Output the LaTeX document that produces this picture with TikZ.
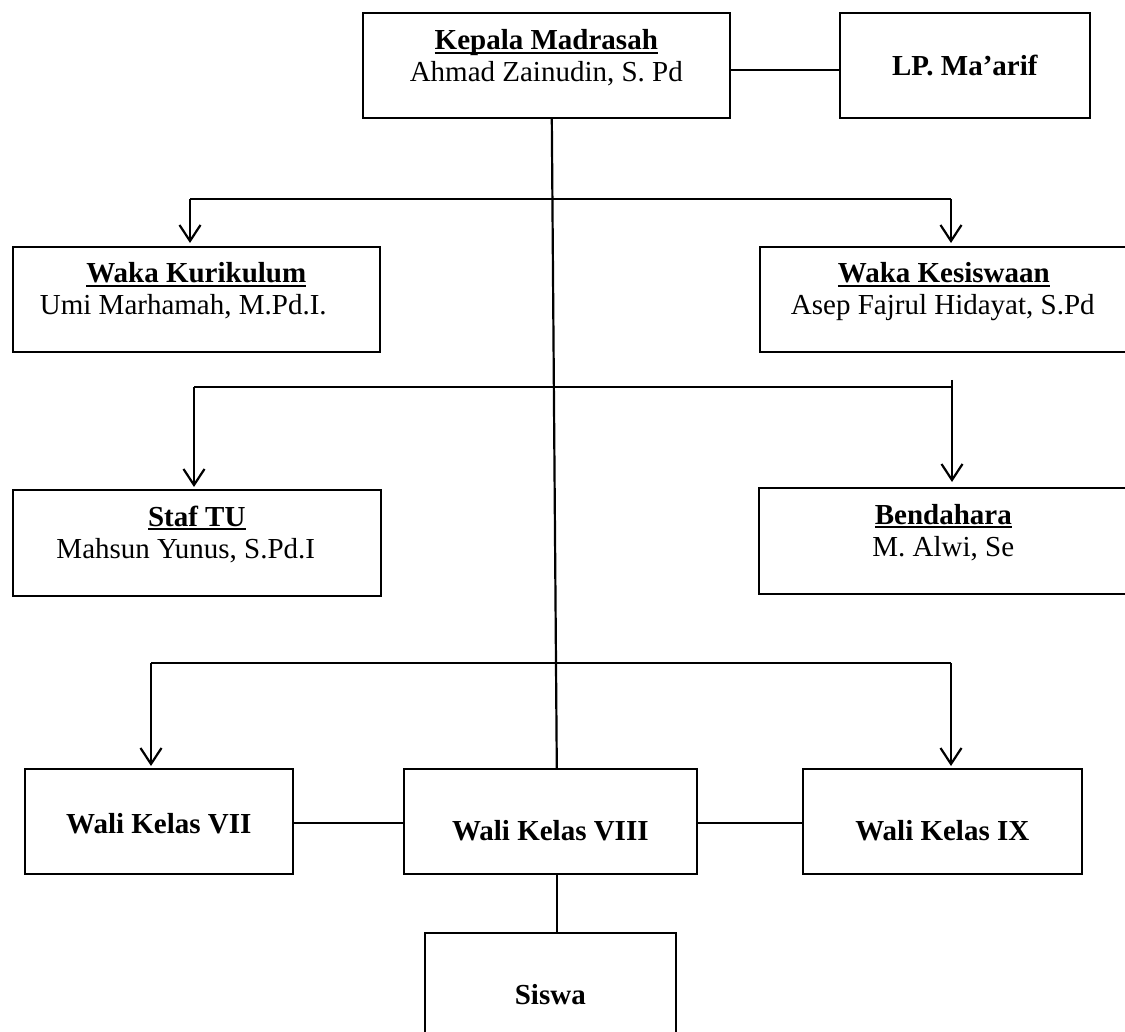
\documentclass[tikz,border=0pt]{standalone}
\usepackage{fontspec}
\setmainfont{Liberation Serif}
\newsavebox{\myulbox}
\newcommand{\myul}[1]{\sbox{\myulbox}{#1}\rlap{\usebox{\myulbox}}\rule[-4pt]{\wd\myulbox}{2.2pt}}
\usetikzlibrary{arrows.meta,calc}
\begin{document}
\begin{tikzpicture}[x=1pt,y=-1pt,
  box/.style={draw, line width=1.6pt, inner sep=0pt, anchor=north west},
  ln/.style={line width=2.2pt},
  arr/.style={line width=2.2pt, -{Straight Barb[length=16pt,width=21pt,line width=2.2pt]}},
  ttl/.style={font=\fontsize{29}{32}\selectfont\bfseries, anchor=base, inner sep=0pt},
  nm/.style={font=\fontsize{29}{32}\selectfont, anchor=base, inner sep=0pt}]
\clip (0,0) rectangle (1125,1032);
% boxes
\node[box, minimum width=367pt, minimum height=105pt] (kepala) at (362,12) {};
\node[box, minimum width=250pt, minimum height=105pt] (lp) at (839,12) {};
\node[box, minimum width=367pt, minimum height=105pt] (wk) at (12,246) {};
\node[box, minimum width=368pt, minimum height=105pt] (wks) at (759,246) {};
\node[box, minimum width=368pt, minimum height=106pt] (staf) at (12,489) {};
\node[box, minimum width=369pt, minimum height=106pt] (bend) at (758,487) {};
\node[box, minimum width=268pt, minimum height=105pt] (vii) at (24,768) {};
\node[box, minimum width=293pt, minimum height=105pt] (viii) at (403,768) {};
\node[box, minimum width=279pt, minimum height=105pt] (ix) at (802,768) {};
\node[box, minimum width=251pt, minimum height=126pt] (siswa) at (424,932) {};
% texts
\node[ttl] (tkepala) at ($(kepala.north)+(0,38)$) {\myul{Kepala Madrasah}};
\node[nm] (nkepala) at ($(kepala.north)+(0,70)$) {Ahmad Zainudin, S. Pd};
\node[ttl] (tlp) at ($(lp.north)+(0,64)$) {LP. Ma’arif};
\node[ttl] (twk) at ($(wk.north)+(0,37)$) {\myul{Waka Kurikulum}};
\node[nm] (nwk) at ($(wk.north)+(-13,69)$) {Umi Marhamah, M.Pd.I.};
\node[ttl] (twks) at ($(wks.north)+(0,37)$) {\myul{Waka Kesiswaan}};
\node[nm] (nwks) at ($(wks.north)+(-1,69)$) {Asep Fajrul Hidayat, S.Pd};
\node[ttl] (tstaf) at ($(staf.north)+(0,37)$) {\myul{Staf TU}};
\node[nm] (nstaf) at ($(staf.north)+(-11,69)$) {Mahsun Yunus, S.Pd.I};
\node[ttl] (tbend) at ($(bend.north)+(0,37)$) {\myul{Bendahara}};
\node[nm] (nbend) at ($(bend.north)+(0,69)$) {M. Alwi, Se};
\node[ttl] (tvii) at ($(vii.north)+(0,65)$) {Wali Kelas VII};
\node[ttl] (tviii) at ($(viii.north)+(0,72)$) {Wali Kelas VIII};
\node[ttl] (tix) at ($(ix.north)+(0,72)$) {Wali Kelas IX};
\node[ttl] (tsiswa) at ($(siswa.north)+(0,72)$) {Siswa};
% connectors
\draw[ln] ($(kepala.east)+(0,4.5)$) -- ($(lp.west)+(0,4.5)$);
\draw[ln] ($(kepala.south)+(5.5,0)$) -- ($(viii.north)+(6.5,0)$);
% row 1
\coordinate (r1l) at (190,199);
\coordinate (r1r) at (951,199);
\draw[ln] (r1l) -- (r1r);
\draw[arr] (r1l) -- ($(r1l |- wk.north)+(0,-3)$);
\draw[arr] (r1r) -- ($(r1r |- wks.north)+(0,-3)$);
% row 2
\coordinate (r2l) at (194,387);
\coordinate (r2r) at (952,387);
\coordinate (r2t) at (952,380);
\draw[ln] (r2l) -- (r2r);
\draw[arr] (r2l) -- ($(r2l |- staf.north)+(0,-2)$);
\draw[arr] (r2t) -- ($(r2r |- bend.north)+(0,-5)$);
% row 3
\coordinate (r3l) at (151,663);
\coordinate (r3r) at (951,663);
\draw[ln] (r3l) -- (r3r);
\draw[arr] (r3l) -- ($(r3l |- vii.north)+(0,-2)$);
\draw[arr] (r3r) -- ($(r3r |- ix.north)+(0,-2)$);
% bottom
\draw[ln] ($(vii.east)+(0,2)$) -- ($(viii.west)+(0,2)$);
\draw[ln] ($(viii.east)+(0,2)$) -- ($(ix.west)+(0,2)$);
\draw[ln] ($(viii.south)+(6.5,0)$) -- ($(siswa.north)+(6.5,0)$);
\end{tikzpicture}
\end{document}
